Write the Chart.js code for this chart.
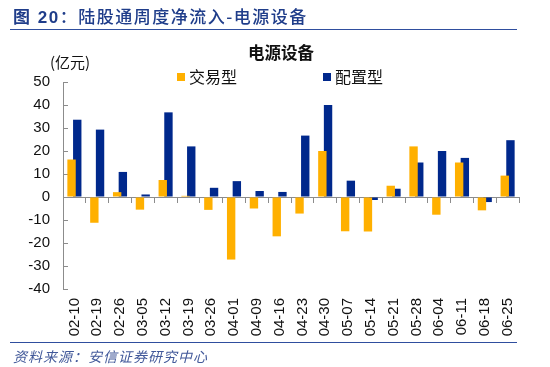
<!DOCTYPE html>
<html>
<head>
<meta charset="utf-8">
<script src="https://cdn.jsdelivr.net/npm/chart.js@4/dist/chart.umd.min.js"></script>
<style>
  html, body { margin: 0; padding: 0; background: #fff; }
  #page { position: relative; width: 550px; height: 367px; overflow: hidden; font-family: "Liberation Sans", "Noto Sans CJK SC", sans-serif; }
  #chartBox { position: absolute; left: 0; top: 0; width: 550px; height: 367px; }
  .abs { position: absolute; white-space: nowrap; line-height: 1; }
  #header { left: 13px; top: 7px; font-size: 17px; font-weight: 500; color: #1f3d8a; letter-spacing: 1.5px; font-family: "Noto Sans CJK SC", sans-serif; }
  #header b { font-family: "Liberation Sans", "Noto Sans CJK SC", sans-serif; }
  .rule { position: absolute; left: 10px; width: 507px; height: 0; border-top: 1.5px solid #2f4e9e; }
  #title { left: 0; width: 562px; text-align: center; top: 44px; font-size: 16.5px; font-weight: bold; color: #111; font-family: "Noto Sans CJK SC", sans-serif; }
  #unit { left: 50px; top: 54px; font-size: 15px; color: #111; font-family: "Noto Sans CJK SC", sans-serif; }
  .leg { top: 68px; font-size: 16px; color: #111; font-family: "Noto Sans CJK SC", sans-serif; }
  .leg i { display: inline-block; width: 8px; height: 8px; margin-right: 4px; vertical-align: 2px; }
  #source { left: 13px; top: 349px; font-size: 14px; font-style: italic; color: #42599a; letter-spacing: 1px; font-family: "Noto Sans CJK SC", sans-serif; }
</style>
</head>
<body>
<div id="page">
  <div id="chartBox"><canvas id="flowChart"></canvas></div>
  <div id="header" class="abs"><b>图 20</b>：陆股通周度净流入-电源设备</div>
  <div class="rule" style="top:29px"></div>
  <div id="title" class="abs">电源设备</div>
  <div id="unit" class="abs">(亿元)</div>
  <div class="leg abs" style="left:177px"><i style="background:#ffb000"></i>交易型</div>
  <div class="leg abs" style="left:323px"><i style="background:#00288c"></i>配置型</div>
  <div class="rule" style="top:342px"></div>
  <div id="source" class="abs">资料来源：安信证券研究中心</div>
</div>
<script>
// ----------------- Data -----------------
const weeks = ["02-10", "02-19", "02-26", "03-05", "03-12", "03-19", "03-26", "04-01", "04-09", "04-16",
  "04-23", "04-30", "05-07", "05-14", "05-21", "05-28", "06-04", "06-11", "06-18", "06-25"];
const tradingFlow = [16.3, -11.2, 2.1, -5.5, 7.4, 0.5, -5.6, -27.2, -5.0, -17.1,
  -7.2, 20.0, -14.9, -15.0, 4.9, 22.0, -7.7, 15.0, -5.8, 9.3];
const allocationFlow = [33.6, 29.3, 10.9, 1.1, 36.8, 22.0, 4.0, 6.9, 2.6, 2.2,
  26.7, 40.0, 7.1, -1.3, 3.6, 15.0, 20.0, 17.0, -2.2, 24.7];
const yTicks = { min: -40, max: 50, step: 10 };

const ORANGE = "#ffb000";
const NAVY = "#00288c";
const AXIS_GREY = "#8c8c8c";
const tickFont = { family: "'Liberation Sans', Arial, sans-serif", size: 15 };

// ----------------- Chart -----------------
const ctx = document.getElementById("flowChart").getContext("2d");
new Chart(ctx, {
  type: "bar",
  data: {
    labels: weeks,
    datasets: [
      { label: "交易型", data: tradingFlow, backgroundColor: ORANGE, xAxisID: "x", yAxisID: "y" },
      { label: "配置型", data: allocationFlow, backgroundColor: NAVY, xAxisID: "x", yAxisID: "y" }
    ]
  },
  options: {
    responsive: true,
    maintainAspectRatio: false,
    animation: false,
    layout: { padding: { left: 23, right: 31, top: 82, bottom: 26 } },
    datasets: { bar: { categoryPercentage: 0.5, barPercentage: 1.47 } },
    plugins: { legend: { display: false }, title: { display: false }, tooltip: { enabled: false } },
    scales: {
      // axis drawn on the zero line with upward tick marks between weeks
      x: {
        type: "category",
        position: { y: 0 },
        offset: true,
        ticks: { display: false },
        grid: { drawOnChartArea: false, offset: true, tickLength: 5, color: AXIS_GREY },
        border: { display: true, color: AXIS_GREY, width: 1 }
      },
      // label axis at the bottom
      x2: {
        type: "category",
        position: "bottom",
        offset: true,
        grid: { display: false, drawTicks: false },
        border: { display: false },
        ticks: { autoSkip: false, minRotation: 90, maxRotation: 90, padding: 9, color: "#111", font: tickFont },
        afterFit: scale => { scale.height = 52; }
      },
      y: {
        min: yTicks.min,
        max: yTicks.max,
        ticks: { stepSize: yTicks.step, padding: 18, color: "#111", font: tickFont },
        grid: { drawOnChartArea: false, tickLength: -5, color: AXIS_GREY },
        border: { display: true, color: AXIS_GREY, width: 1 },
        afterFit: scale => { scale.width = 40; }
      }
    }
  }
});
</script>
</body>
</html>
